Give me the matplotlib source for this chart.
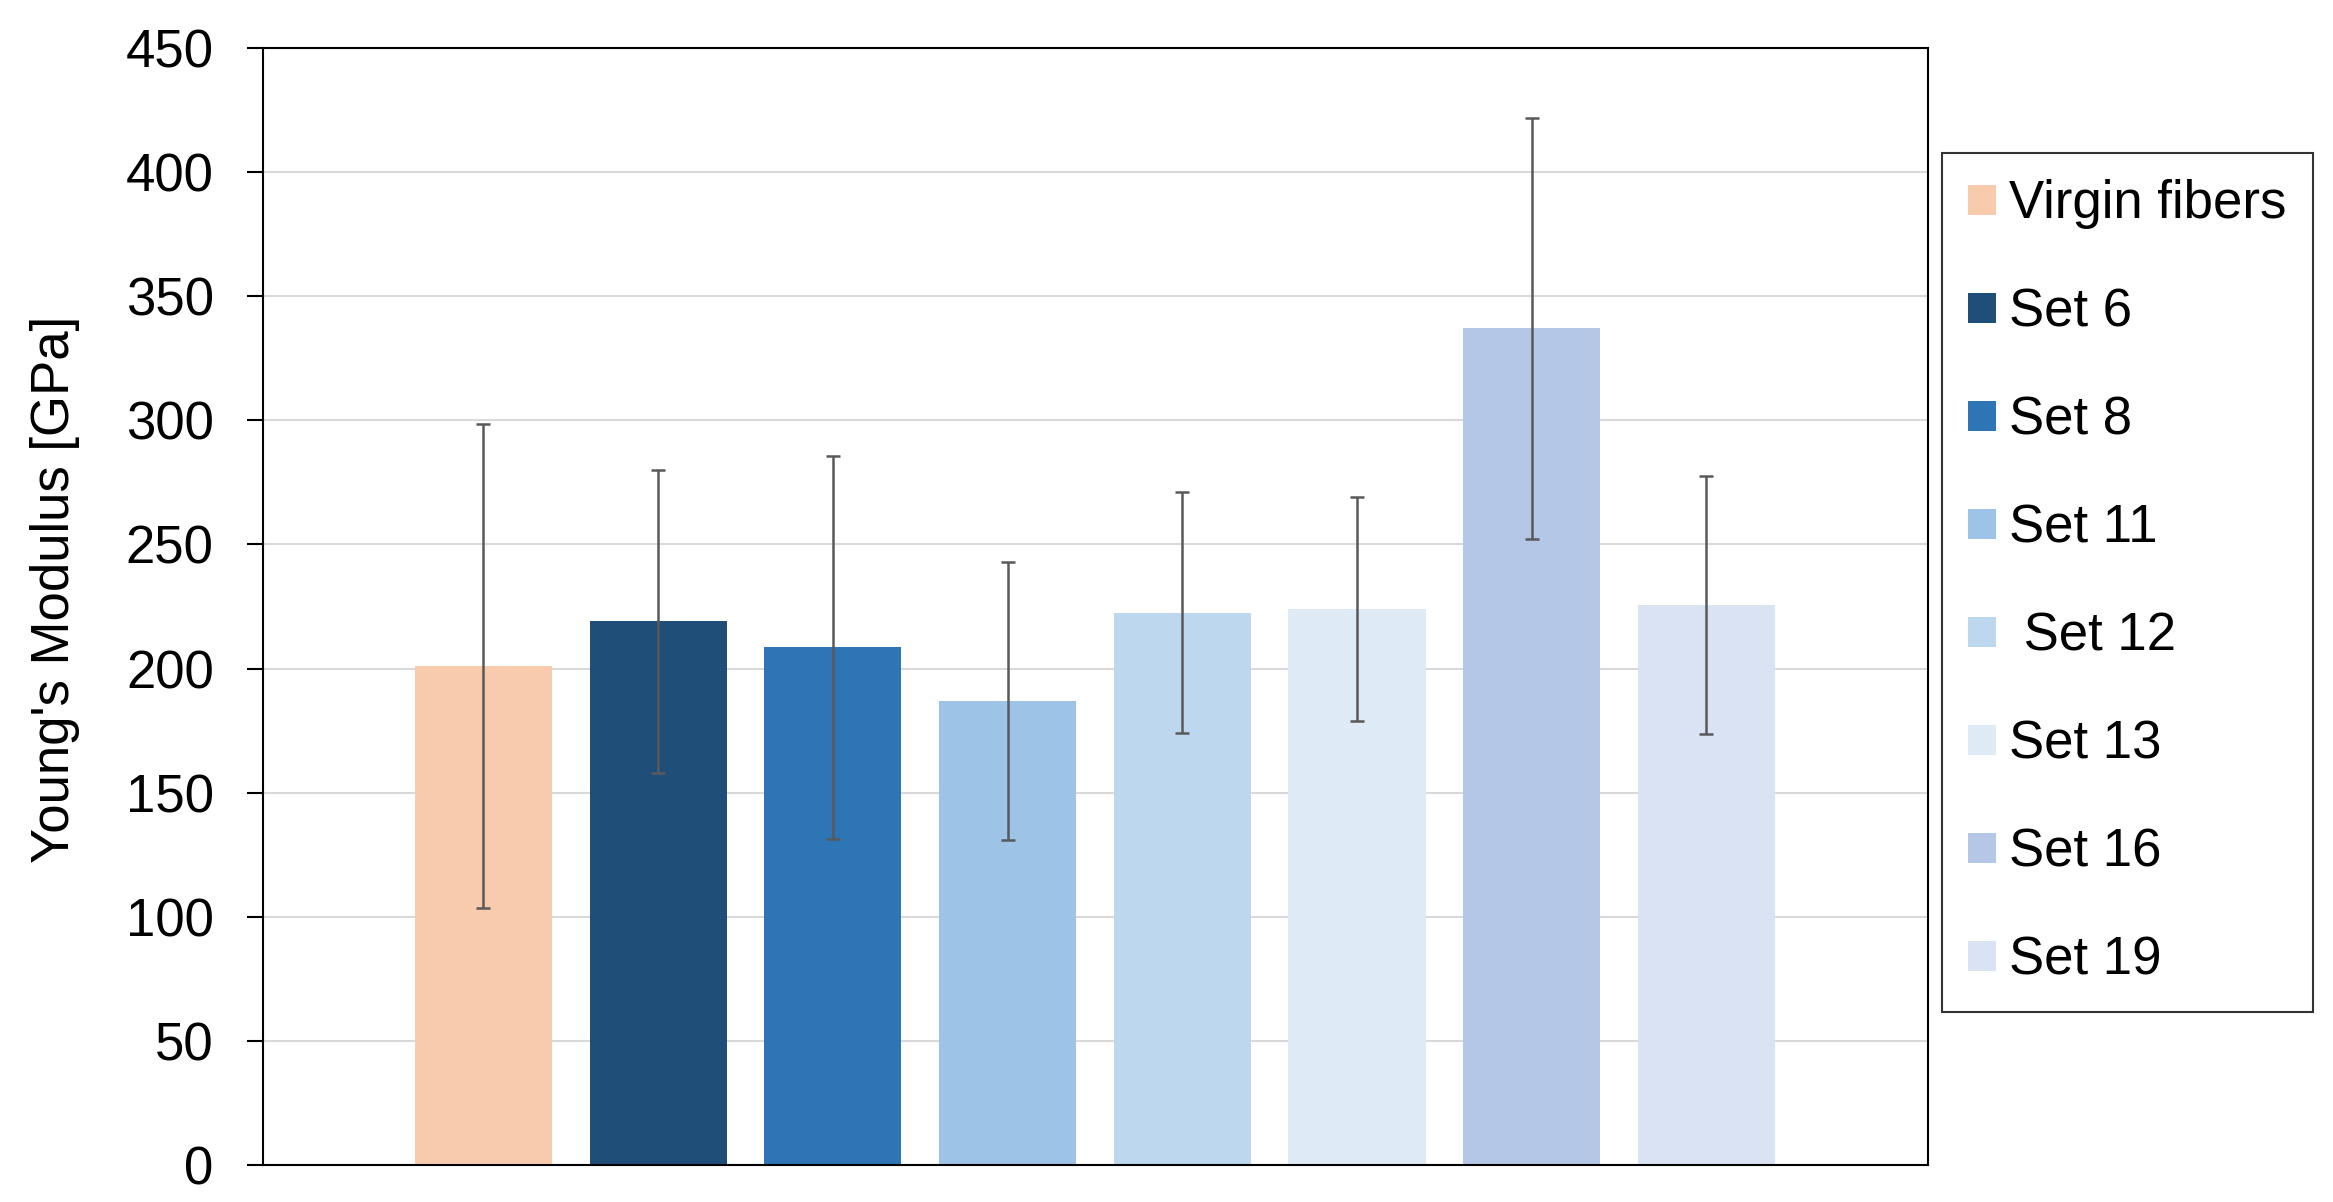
import matplotlib
matplotlib.use('Agg')
import matplotlib.pyplot as plt
import numpy as np

plt.rcParams['font.family'] = ['Liberation Sans', 'DejaVu Sans']

labels = ['Virgin fibers', 'Set 6', 'Set 8', 'Set 11', ' Set 12', 'Set 13', 'Set 16', 'Set 19']
modulus = [201, 219, 208.5, 187, 222.5, 224, 337, 225.5]
errors = [97.5, 61, 77, 56, 48.5, 45, 85, 52]
colors = ['#F8CBAD', '#1F4E79', '#2E75B6', '#9DC3E6', '#BDD7EE', '#DEEBF7', '#B4C7E7', '#DAE3F3']
yticks = np.arange(0, 451, 50)

fig = plt.figure(figsize=(23.33, 12.02), dpi=100)
ax = fig.add_axes([263 / 2333, 37 / 1202, 1665 / 2333, 1117 / 1202])

x = np.arange(len(labels))
bars = ax.bar(x, modulus, width=0.785, color=colors, zorder=2)
ax.errorbar(x, modulus, yerr=errors, fmt='none', ecolor='#595959',
            elinewidth=1.8, capsize=5, capthick=1.8, zorder=3)

ax.set_xlim(-1.262, 8.268)
ax.set_ylim(0, 450)
ax.set_yticks(yticks)
ax.set_xticks([])
ax.tick_params(axis='y', labelsize=38, length=11.5, width=1.5, pad=24)
ax.yaxis.grid(True, color='#D9D9D9', linewidth=1.5, zorder=0)
ax.set_axisbelow(True)
for s in ax.spines.values():
    s.set_linewidth(1.5)
    s.set_color('black')

ax.set_ylabel("Young's Modulus [GPa]", fontsize=38)
ax.yaxis.set_label_coords(-0.11, 0.515)

leg = fig.legend(bars.patches, labels, loc='upper left',
                 bbox_to_anchor=(1942 / 2333, 1 - 153 / 1202),
                 bbox_transform=fig.transFigure, borderaxespad=0,
                 fontsize=38, frameon=True, fancybox=False, edgecolor='black',
                 borderpad=0.5, labelspacing=1.1, handlelength=0.52,
                 handleheight=0.5, handletextpad=0.25)
leg.get_frame().set_linewidth(1.5)

fig.savefig('out.png', dpi=100)
